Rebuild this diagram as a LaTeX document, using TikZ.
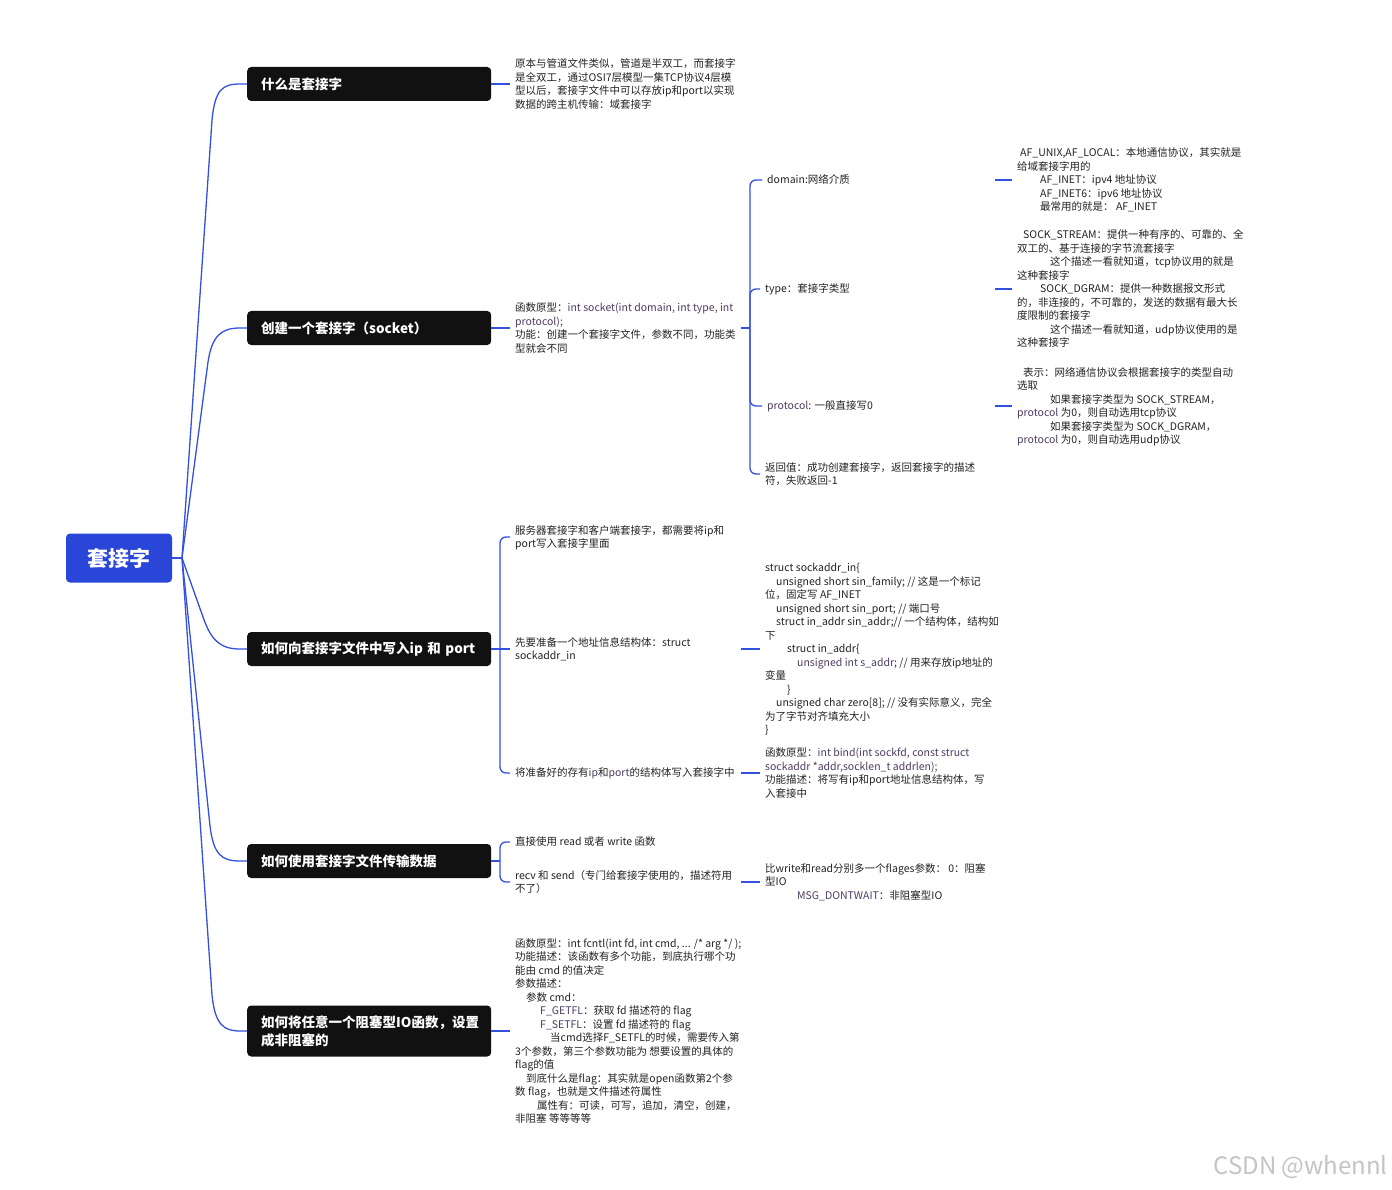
\documentclass[tikz,border=0pt]{standalone}
\usepackage{fontspec}
\setmainfont{Noto Sans CJK SC}
\definecolor{rblue}{HTML}{2A46D8}
\definecolor{lblue}{HTML}{3350DE}
\definecolor{boxblack}{HTML}{111111}
\definecolor{tcol}{HTML}{222222}
\definecolor{codec}{HTML}{4E3A63}
\definecolor{wm}{HTML}{C4C4C4}
\newcommand\vs{\rule[-2.85pt]{0pt}{13.5pt}}
\newcommand\cd[1]{\textcolor{codec}{#1}}
\newcommand\ind[1]{\hspace*{#1pt}}
\tikzset{
  conn/.style={draw=lblue, line width=1.3pt},
  brk/.style={conn, rounded corners=6pt},
  rootbox/.style={fill=rblue, rounded corners=4pt, text=white, minimum width=106pt, minimum height=49pt, inner sep=0pt, font=\fontsize{21}{24}\selectfont\bfseries},
  lone/.style={fill=boxblack, rounded corners=4pt, text=white, anchor=west, minimum width=244pt, minimum height=34pt, inner xsep=14pt, inner ysep=2pt, text width=216pt, align=left, font=\fontsize{13.5}{18}\selectfont\bfseries},
  txt/.style={anchor=west, inner sep=0pt, align=left, font=\fontsize{10.5}{13.5}\selectfont, text=tcol},
}
\begin{document}
\begin{tikzpicture}[x=1pt,y=-1pt]
\useasboundingbox (0,0) rectangle (1392,1190);

% root
\node[rootbox] (root) at (119,558) {套接字};
\coordinate (J) at (182,558);

% level 1
\node[lone] (b1) at (247,84) {什么是套接字};
\node[lone] (b2) at (247,328) {创建一个套接字（socket）};
\node[lone] (b3) at (247,649) {如何向套接字文件中写入ip 和 port};
\node[lone] (b4) at (247,861) {如何使用套接字文件传输数据};
\node[lone, minimum height=51pt] (b5) at (247,1031) {如何将任意一个阻塞型IO函数，设置\\成非阻塞的};

\draw[conn] (root.east) -- (J);
\draw[conn] (J) -- (212,120) .. controls (215,90) and (222,84) .. (240,84) -- (b1.west);
\draw[conn] (J) -- (208,362) .. controls (212,335) and (222,328) .. (240,328) -- (b2.west);
\draw[conn] (J) -- (203,617) .. controls (211,640) and (220,649) .. (240,649) -- (b3.west);
\draw[conn] (J) -- (210,826) .. controls (213.5,855) and (222,861) .. (240,861) -- (b4.west);
\draw[conn] (J) -- (212,995) .. controls (215,1025) and (224,1031) .. (240,1031) -- (b5.west);

% branch 1
\node[txt] (t1) at (515,84) {\vs 原本与管道文件类似，管道是半双工，而套接字\\
是全双工，通过OSI7层模型一集TCP协议4层模\\
型以后，套接字文件中可以存放ip和port以实现\\
数据的跨主机传输：域套接字\vs};
\draw[conn] (b1.east) -- ([xshift=-5pt]t1.west);

% branch 2
\node[txt] (t2) at (515,328) {\vs 函数原型：\cd{int socket(int domain, int type, int}\\
\cd{protocol);}\\
功能：创建一个套接字文件，参数不同，功能类\\
型就会不同\vs};
\draw[conn] (b2.east) -- ([xshift=-5pt]t2.west);

\node[txt] (d1) at (767,180) {\vs domain:网络介质\vs};
\node[txt] (d2) at (765,289) {\vs type：套接字类型\vs};
\node[txt] (d3) at (767,406) {\vs \cd{protocol}: 一般直接写0\vs};
\node[txt] (d4) at (765,474) {\vs 返回值：成功创建套接字，返回套接字的描述\\符，失败返回-1\vs};

\coordinate (k2) at (750,328);
\draw[conn] ([xshift=226pt]t2.west) -- (k2);
\draw[brk] (k2) |- ([xshift=-5pt]d1.west);
\draw[brk] (k2) |- ([xshift=-5pt]d2.west);
\draw[brk] (k2) |- ([xshift=-5pt]d3.west);
\draw[brk] (k2) |- ([xshift=-5pt]d4.west);

\node[txt] (e1) at (1017,180) {\vs \ind{3}AF\_UNIX,AF\_LOCAL：本地通信协议，其实就是\\
给域套接字用的\\
\ind{23}AF\_INET：ipv4 地址协议\\
\ind{23}AF\_INET6：ipv6 地址协议\\
\ind{23}最常用的就是： AF\_INET\vs};
\node[txt] (e2) at (1017,289) {\vs \ind{6}SOCK\_STREAM：提供一种有序的、可靠的、全\\
双工的、基于连接的字节流套接字\\
\ind{33}这个描述一看就知道，tcp协议用的就是\\
这种套接字\\
\ind{23}SOCK\_DGRAM：提供一种数据报文形式\\
的，非连接的，不可靠的，发送的数据有最大长\\
度限制的套接字\\
\ind{33}这个描述一看就知道，udp协议使用的是\\
这种套接字\vs};
\node[txt] (e3) at (1017,406) {\vs \ind{6}表示：网络通信协议会根据套接字的类型自动\\
选取\\
\ind{33}如果套接字类型为 SOCK\_STREAM，\\
\cd{protocol} 为0，则自动选用tcp协议\\
\ind{33}如果套接字类型为 SOCK\_DGRAM，\\
\cd{protocol} 为0，则自动选用udp协议\vs};
\draw[conn] ([xshift=228pt]d1.west) -- ([xshift=-5pt]e1.west);
\draw[conn] ([xshift=230pt]d2.west) -- ([xshift=-5pt]e2.west);
\draw[conn] ([xshift=228pt]d3.west) -- ([xshift=-5pt]e3.west);

% branch 3
\node[txt] (c1) at (515,537) {\vs 服务器套接字和客户端套接字，都需要将ip和\\port写入套接字里面\vs};
\node[txt] (c2) at (515,649) {\vs 先要准备一个地址信息结构体：struct\\sockaddr\_in\vs};
\node[txt] (c3) at (515,773) {\vs 将准备好的存有\cd{ip}和\cd{port}的结构体写入套接字中\vs};
\coordinate (k3) at (500,649);
\draw[conn] (b3.east) -- (k3);
\draw[brk] (k3) |- ([xshift=-5pt]c1.west);
\draw[brk] (k3) -- ([xshift=-5pt]c2.west);
\draw[brk] (k3) |- ([xshift=-5pt]c3.west);

\node[txt] (g1) at (765,649) {\vs struct sockaddr\_in\{\\
\ind{11}unsigned short sin\_family; // 这是一个标记\\
位，固定写 AF\_INET\\
\ind{11}unsigned short sin\_port; // 端口号\\
\ind{11}struct in\_addr sin\_addr;// 一个结构体，结构如\\
下\\
\ind{22}struct in\_addr\{\\
\ind{32}\cd{unsigned int s\_addr}; // 用来存放ip地址的\\
变量\\
\ind{22}\}\\
\ind{11}unsigned char zero[8]; // 没有实际意义，完全\\
为了字节对齐填充大小\\
\}\vs};
\node[txt] (g2) at (765,773) {\vs 函数原型：\cd{int bind(int sockfd, const struct}\\
\cd{sockaddr *addr,socklen\_t addrlen);}\\
功能描述：将写有ip和port地址信息结构体，写\\
入套接中\vs};
\draw[conn] ([xshift=226pt]c2.west) -- ([xshift=-5pt]g1.west);
\draw[conn] ([xshift=226pt]c3.west) -- ([xshift=-5pt]g2.west);

% branch 4
\node[txt] (c4) at (515,842) {\vs 直接使用 read 或者 write 函数\vs};
\node[txt] (c5) at (515,882) {\vs recv 和 send（专门给套接字使用的，描述符用\\不了）\vs};
\coordinate (k4) at (500,861);
\draw[conn] (b4.east) -- (k4);
\draw[brk] (k4) |- ([xshift=-5pt]c4.west);
\draw[brk] (k4) |- ([xshift=-5pt]c5.west);

\node[txt] (g3) at (765,882) {\vs 比write和read分别多一个flages参数： 0：阻塞\\
型IO\\
\ind{32}\cd{MSG\_DONTWAIT}：非阻塞型IO\vs};
\draw[conn] ([xshift=226pt]c5.west) -- ([xshift=-5pt]g3.west);

% branch 5
\node[txt] (t5) at (515,1031) {\vs 函数原型：int fcntl(int fd, int cmd, ... /* arg */ );\\
功能描述：该函数有多个功能，到底执行哪个功\\
能由 cmd 的值决定\\
参数描述：\\
\ind{11}参数 cmd：\\
\ind{25}\cd{F\_GETFL}：获取 fd 描述符的 flag\\
\ind{25}\cd{F\_SETFL}：设置 fd 描述符的 flag\\
\ind{35}当cmd选择F\_SETFL的时候，需要传入第\\
3个参数，第三个参数功能为 想要设置的具体的\\
flag的值\\
\ind{11}到底什么是flag：其实就是open函数第2个参\\
数 flag，也就是文件描述符属性\\
\ind{22}属性有：可读，可写，追加，清空，创建，\\
非阻塞 等等等等\vs};
\draw[conn] (b5.east) -- ([xshift=-5pt]t5.west);

% watermark
\node[anchor=east, text=wm, inner sep=0pt, font=\fontsize{24}{26}\selectfont] (wmk) at (1388,1167) {CSDN @whennl};
\end{tikzpicture}
\end{document}
